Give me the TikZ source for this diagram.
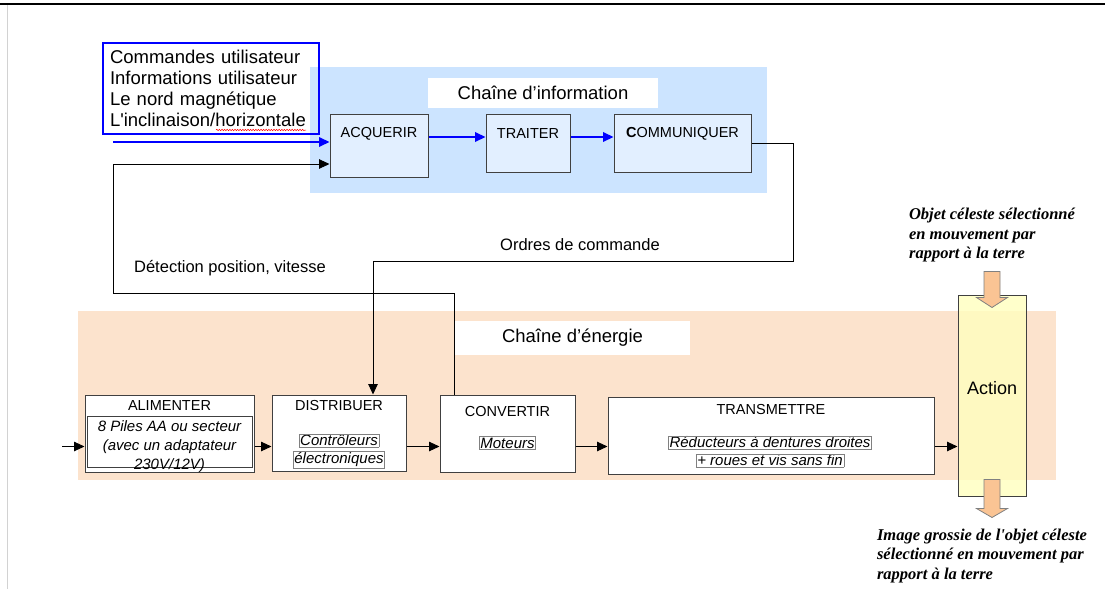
\documentclass[tikz,border=0pt]{standalone}
\usepackage{fontspec}
\setmainfont{Liberation Sans}
\newfontfamily\timesfont{Liberation Serif}
\usetikzlibrary{positioning, arrows.meta, decorations.pathmorphing}

\definecolor{infobg}{RGB}{204,228,255}
\definecolor{infobox}{RGB}{226,239,255}
\definecolor{enerbg}{RGB}{252,227,205}
\definecolor{actfill}{RGB}{255,255,190}
\definecolor{fatorange}{RGB}{250,196,148}
\definecolor{boxline}{RGB}{64,64,64}
\definecolor{pureblue}{RGB}{0,0,255}

\newcommand{\cadre}[1]{{\setlength{\fboxsep}{0.8pt}\setlength{\fboxrule}{0.6pt}\fcolorbox{gray}{white}{#1}}}

\begin{document}
\begin{tikzpicture}[x=1pt,y=-1pt,>={Triangle[length=10.5pt,width=9.5pt]},
    info box/.style={draw=boxline,fill=infobox,line width=1pt,inner sep=0pt},
    energy box/.style={draw=boxline,fill=white,line width=1pt,inner sep=0pt},
    box title/.style={font=\fontsize{14.5}{17}\selectfont,inner sep=0pt},
    box text/.style={font=\fontsize{15}{18}\selectfont\itshape,align=center,inner sep=0pt},
    band title/.style={fill=white,font=\fontsize{18.5}{22}\selectfont,inner sep=0pt},
    link label/.style={font=\fontsize{16.5}{20}\selectfont,inner sep=0pt},
    link/.style={->,line width=0.9pt,black},
    blue link/.style={->,line width=2pt,pureblue},
    fat arrow/.style={draw=gray,fill=fatorange,line width=0.8pt},
    note/.style={font=\fontsize{16.5}{19.5}\selectfont\timesfont\bfseries\itshape,align=left,inner sep=0pt}]

\useasboundingbox (0,0) rectangle (1105,589);
\draw[line width=1.2pt] (0,4) -- (1105,4);
\draw[gray!35, line width=1pt] (7.5,5) -- (7.5,589);

% fonds des deux chaines
\fill[infobg] (310,67) rectangle (767,193);
\fill[enerbg] (78,311) rectangle (1056,480);

\node[band title, minimum width=230pt, minimum height=30pt] (infoT) at (543,93) {Chaîne d'information};
\node[band title, minimum width=235pt, minimum height=34pt] (enerT) at (572.5,338) {Chaîne d'énergie};

% chaine d'information
\node[draw=pureblue, line width=1.5pt, minimum width=216pt, minimum height=91pt, text width=202pt,
      align=left, inner sep=0pt, font=\fontsize{18.5}{21}\selectfont] (user) at (211,88.5)
      {Commandes utilisateur\\Informations utilisateur\\Le nord magnétique\\L\textquotesingle inclinaison/horizontale};
\draw[red, line width=0.5pt, decorate, decoration={snake, amplitude=0.7pt, segment length=2.6pt}] (216,130) -- (306,130);

\node[info box, minimum width=98pt, minimum height=63pt]  (acq)     at (379,145.5) {};
\node[info box, minimum width=84pt, minimum height=58pt]  (traiter) [right=57pt of acq.north east, anchor=north west] {};
\node[info box, minimum width=137pt, minimum height=58pt] (comm)    [right=43pt of traiter.north east, anchor=north west] {};

\node[box title] (acqT)     at ([yshift=-20pt]acq.north)     {ACQUERIR};
\node[box title] (traiterT) at ([yshift=-20pt]traiter.north) {TRAITER};
\node[box title] (commT)    at ([yshift=-20pt]comm.north)    {\textbf{C}OMMUNIQUER};

% chaine d'energie
\node[energy box, minimum width=169pt, minimum height=77pt] (alim)  at (169.5,433.5) {};
\node[energy box, minimum width=134pt, minimum height=76pt] (dist)  [right=17pt of alim.north east, anchor=north west] {};
\node[energy box, minimum width=135pt, minimum height=77pt] (conv)  [right=33pt of dist.north east, anchor=north west] {};
\node[energy box, minimum width=326pt, minimum height=77pt] (trans) [right=32pt of conv.north east, anchor=north west, yshift=-2pt] {};

\node[box title] (alimT)  at ([yshift=-11pt]alim.north)  {ALIMENTER};
\node[box title] (distT)  at ([yshift=-11pt]dist.north)  {DISTRIBUER};
\node[box title] (convT)  at ([yshift=-17pt]conv.north)  {CONVERTIR};
\node[box title] (transT) at ([yshift=-13pt]trans.north) {TRANSMETTRE};

\node[draw=boxline, line width=0.8pt, minimum width=165pt, minimum height=51pt, inner sep=0pt] (alimD) at ([yshift=-8pt]alim.center) {};
\node[box text, font=\fontsize{15}{19}\selectfont\itshape] (alimDT) at ([yshift=-5pt]alimD.center) {8 Piles AA ou secteur\\(avec un adaptateur\\230V/12V)};
\node[box text] (distD)  at ([yshift=-18pt]dist.center)  {\cadre{Contrôleurs}\\\cadre{électroniques}};
\node[box text] (convD)  at ([yshift=-9.5pt]conv.center) {\cadre{Moteurs}};
\node[box text] (transD) at ([xshift=-1pt,yshift=-16pt]trans.center) {\cadre{Réducteurs à dentures droites}\\\cadre{+ roues et vis sans fin}};

% action
\node[draw=boxline, line width=1pt, fill=actfill, fill opacity=0.8, text opacity=1,
      minimum width=68pt, minimum height=201pt, inner sep=0pt] (action) at (992,395.5) {};
\node[font=\fontsize{18}{21}\selectfont, inner sep=0pt] (actT) at ([yshift=7.5pt]action.center) {Action};

\draw[fat arrow] (action.north) ++(0,13) -- ++(15.5,-10) -- ++(-7.5,0) -- ++(0,-26) -- ++(-16,0)
                 -- ++(0,26) -- ++(-7.5,0) -- cycle;
\draw[fat arrow] (action.south) ++(0,21) -- ++(15.5,-9) -- ++(-7.5,0) -- ++(0,-29) -- ++(-16,0)
                 -- ++(0,29) -- ++(-7.5,0) -- cycle;

\node[note, above=32pt of action] (objet) {Objet céleste sélectionné\\en mouvement par\\rapport à la terre};
\node[note, below=32pt of action, xshift=-10pt] (image) {Image grossie de l\textquotesingle objet céleste\\sélectionné en mouvement par\\rapport à la terre};

% liaisons
\coordinate (usrin) at (113,142);
\coordinate (flow)  at (62,446.5);
\coordinate (cmd)   at (793,261);
\coordinate (fbk)   at (113,293);

\path[blue link]
(usrin) edge (usrin -| acq.west)
([yshift=8.5pt]acq.east) edge ([yshift=8.5pt]acq.east -| traiter.west)
([yshift=8.5pt]acq.east -| traiter.east) edge ([yshift=8.5pt]acq.east -| comm.west);

\path[link]
(flow) edge (flow -| alim.west)
(flow -| alim.east) edge (flow -| dist.west)
(flow -| dist.east) edge (flow -| conv.west)
(flow -| conv.east) edge (flow -| trans.west)
(flow -| trans.east) edge (flow -| action.west);

\draw[link] (comm.east) -| (cmd) -| ([xshift=34pt]dist.north);
\draw[link] ([xshift=-53.5pt]conv.north) |- (fbk) |- ([yshift=-18.5pt]acq.west);

\node[link label] (ordres) at (580,245) {Ordres de commande};
\node[link label] (detect) at (230,268) {Détection position, vitesse};
\end{tikzpicture}
\end{document}
